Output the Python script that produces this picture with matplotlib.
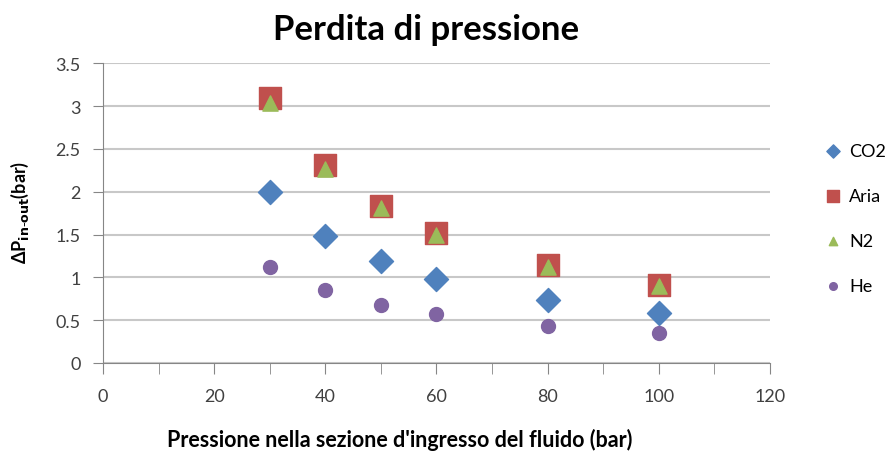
import matplotlib.pyplot as plt
from matplotlib.ticker import MultipleLocator

# Pressione in ingresso (bar) e perdite di pressione per ciascun fluido
pressione = [30, 40, 50, 60, 80, 100]
dp_co2 = [2.00, 1.48, 1.19, 0.98, 0.74, 0.58]
dp_aria = [3.09, 2.31, 1.83, 1.52, 1.14, 0.91]
dp_n2 = [3.04, 2.27, 1.81, 1.50, 1.12, 0.90]
dp_he = [1.12, 0.85, 0.68, 0.57, 0.43, 0.35]

plt.rcParams['font.family'] = ['Lato', 'DejaVu Sans']

fig = plt.figure(figsize=(8.92, 4.52), dpi=100)
ax = fig.add_axes([0.1155, 0.1947, 0.7475, 0.6633])

ax.scatter(pressione, dp_co2, marker='D', s=150, color='#4F81BD', label='CO2', zorder=3)
ax.scatter(pressione, dp_aria, marker='s', s=250, color='#C0504D', label='Aria', zorder=3)
ax.scatter(pressione, dp_n2, marker='^', s=120, color='#9BBB59', label='N2', zorder=4)
ax.scatter(pressione, dp_he, marker='o', s=100, color='#8064A2', label='He', zorder=3)

ax.set_xlim(0, 120)
ax.set_ylim(0, 3.5)
ax.xaxis.set_major_locator(MultipleLocator(20))
ax.xaxis.set_minor_locator(MultipleLocator(10))
ax.yaxis.set_major_locator(MultipleLocator(0.5))
ax.yaxis.set_major_formatter(plt.FuncFormatter(lambda v, p: f'{v:g}'))

ax.grid(axis='y', color='#C8C8C8', linewidth=1.5)
ax.set_axisbelow(True)
for s in ['top', 'right']:
    ax.spines[s].set_visible(False)
for s in ['left', 'bottom']:
    ax.spines[s].set_color('#868686')
ax.tick_params(which='both', direction='out', color='#868686', labelsize=13,
               labelcolor='#404040')
ax.tick_params(axis='x', which='both', length=8, pad=10)
ax.tick_params(axis='y', length=7, pad=9)

fig.text(0.4776, 0.9336, 'Perdita di pressione', fontsize=25, fontweight='bold',
         ha='center', va='center')

ax.set_xlabel("Pressione nella sezione d'ingresso del fluido (bar)",
              fontsize=15.5, fontweight='bold', va='center')
ax.xaxis.set_label_coords(0.445, -0.253)
ax.set_ylabel(r'ΔP$_{\mathbf{in\text{-}out}}$(bar)', fontsize=13, fontweight='bold',
              va='center')
ax.yaxis.set_label_coords(-0.1244, 0.507)

ax.legend(loc='center left', bbox_to_anchor=(1.057, 0.483), frameon=False,
          fontsize=13, labelspacing=1.6, handlelength=1.0, handletextpad=0.4,
          markerscale=0.55)

fig.savefig('out.png', dpi=100)
